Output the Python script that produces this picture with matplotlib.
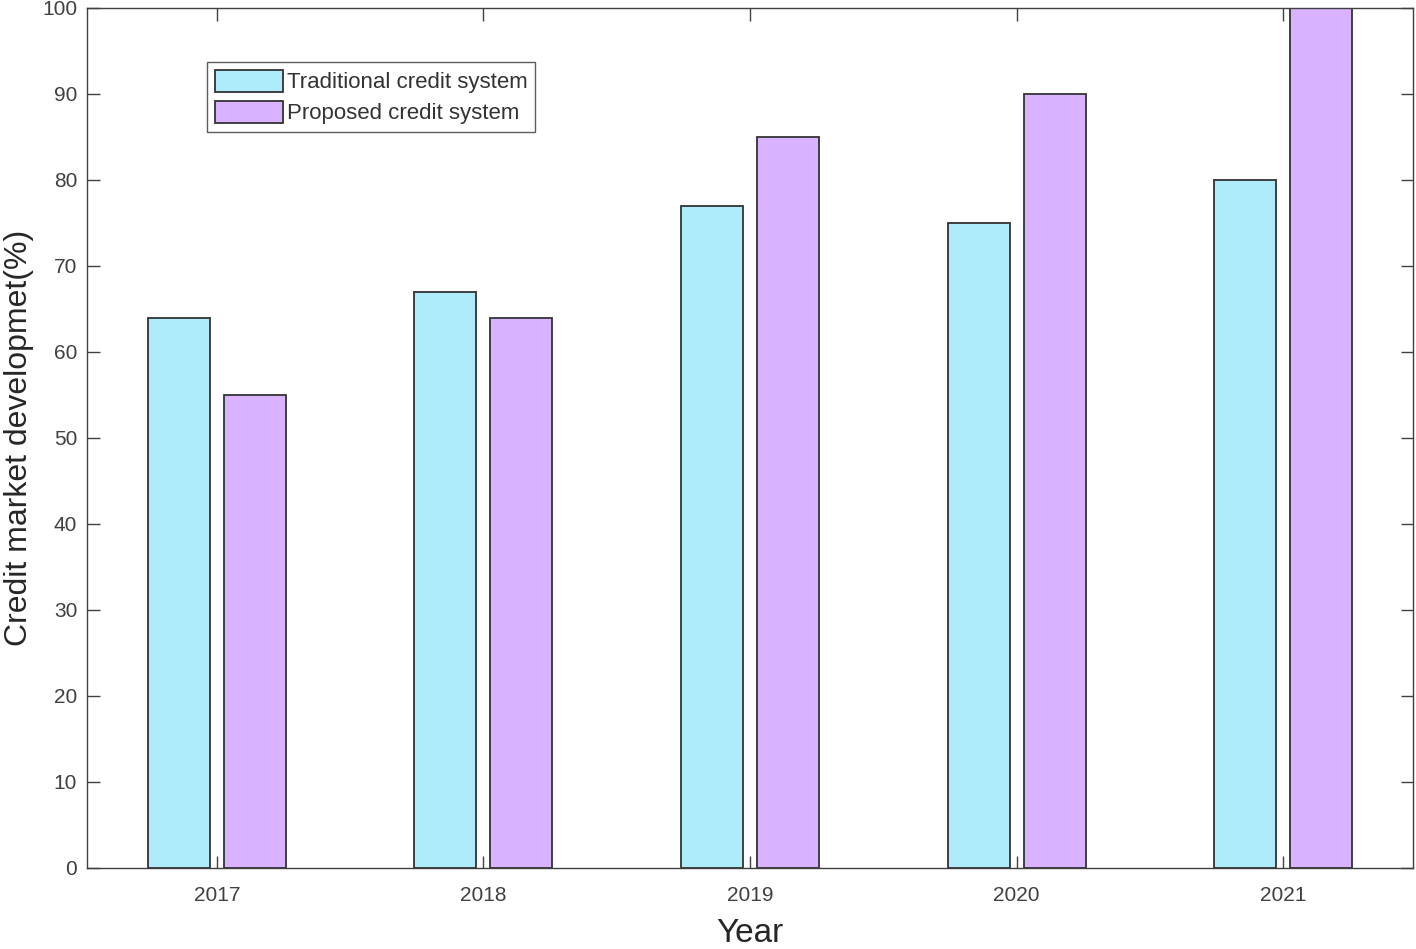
import numpy as np
import matplotlib
matplotlib.use("Agg")
import matplotlib.pyplot as plt

years = ["2017", "2018", "2019", "2020", "2021"]
traditional = [64, 67, 77, 75, 80]
proposed = [55, 64, 85, 90, 100]

plt.rcParams['font.family'] = ['Liberation Sans', 'DejaVu Sans']

fig = plt.figure(figsize=(14.16, 9.49), dpi=100)
ax = fig.add_axes([0.0614, 0.0854, 0.9366, 0.9062])

x = np.arange(1, len(years) + 1)
w = 0.232
off = 0.1425
ax.bar(x - off, traditional, w, color="#AEEBFB", edgecolor="#333333", linewidth=1.3,
       label="Traditional credit system")
ax.bar(x + off, proposed, w, color="#D9B3FF", edgecolor="#333333", linewidth=1.3,
       label="Proposed credit system")

ax.set_xlim(0.513, 5.487)
ax.set_ylim(0, 100)
ax.set_xticks(x)
ax.set_xticklabels(years)
ax.set_yticks(np.arange(0, 101, 10))
ax.tick_params(direction="in", top=True, right=True, length=9, width=1,
               labelsize=15, colors="#404040")
ax.tick_params(axis="x", pad=13)
ax.tick_params(axis="y", pad=7)
for s in ax.spines.values():
    s.set_color("#404040")
    s.set_linewidth(1)

ax.set_xlabel("Year", fontsize=24, color="#262626", labelpad=9)
ax.set_ylabel("Credit market developmet(%)", fontsize=23, color="#262626", labelpad=6)

leg = ax.legend(loc="upper left", bbox_to_anchor=(0.0905, 0.937), fontsize=16,
                frameon=True, fancybox=False, edgecolor="#333333",
                handlelength=3.05, handleheight=1.15, handletextpad=0.2,
                borderpad=0.35, labelspacing=0.33, borderaxespad=0)
leg.get_frame().set_linewidth(1)
for t in leg.get_texts():
    t.set_color("#333333")

plt.savefig("out.png", dpi=100)
